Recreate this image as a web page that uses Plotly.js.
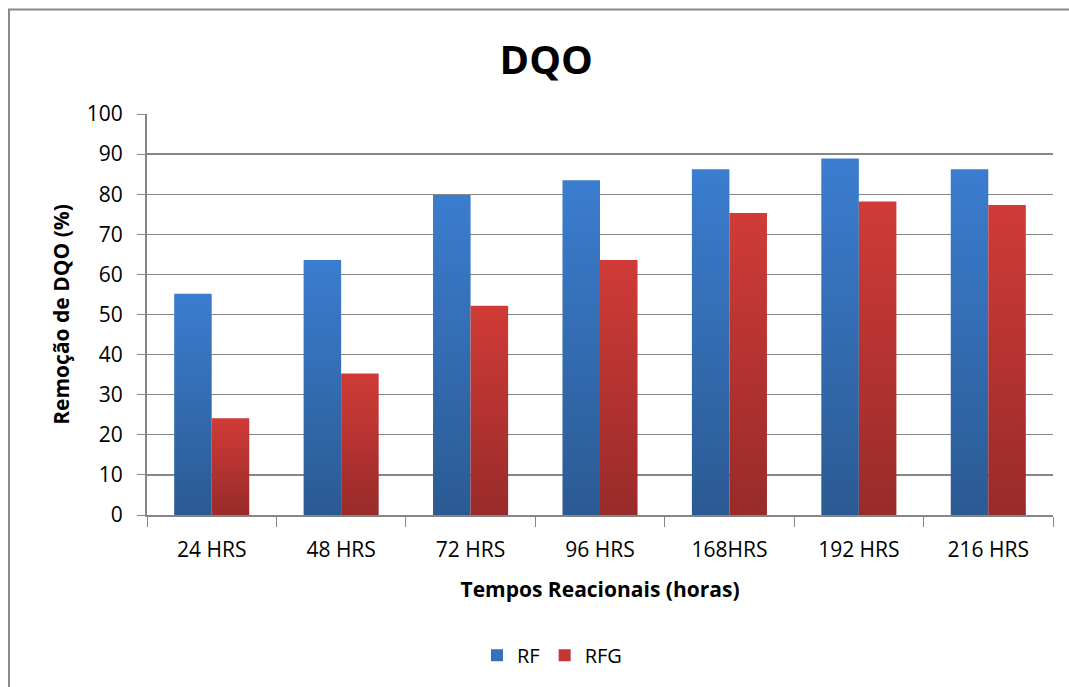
<!DOCTYPE html>
<html>
<head>
<meta charset="utf-8">
<script src="https://cdn.plot.ly/plotly-3.0.1.min.js"></script>
<style>
  html, body { margin: 0; padding: 0; background: #ffffff; }
  #chart { width: 1069px; height: 687px; }
</style>
</head>
<body>
<div id="chart"></div>
<script>
const categories = ['24 HRS', '48 HRS', '72 HRS', '96 HRS', '168HRS', '192 HRS', '216 HRS'];
const rfValues = [55.2, 63.6, 79.8, 83.5, 86.2, 88.9, 86.2];
const rfgValues = [24.1, 35.3, 52.2, 63.6, 75.3, 78.2, 77.3];
const yTicks = [0, 10, 20, 30, 40, 50, 60, 70, 80, 90, 100];

const FONT = 'Open Sans, Lato, DejaVu Sans, sans-serif';
const GRID = '#868686';

const traces = [
  {
    type: 'bar', name: 'RF', x: categories, y: rfValues,
    marker: { color: '#3470bb', line: { width: 0 } },
    hoverinfo: 'x+y+name'
  },
  {
    type: 'bar', name: 'RFG', x: categories, y: rfgValues,
    marker: { color: '#bf3836', line: { width: 0 } },
    hoverinfo: 'x+y+name'
  }
];

const layout = {
  width: 1069, height: 687,
  paper_bgcolor: '#ffffff', plot_bgcolor: '#ffffff',
  margin: { l: 147, r: 16, t: 114, b: 170, pad: 0 },
  font: { family: FONT, color: '#000000' },
  title: {
    text: '<b>DQO</b>',
    font: { family: FONT, size: 40, color: '#000000' },
    x: 0.511, xref: 'container', xanchor: 'center',
    y: 0.913, yref: 'container', yanchor: 'middle'
  },
  barmode: 'group', bargap: 0.42, bargroupgap: 0,
  showlegend: true,
  legend: {
    orientation: 'h', x: 0.447, xanchor: 'center', y: -0.35, yanchor: 'middle',
    font: { family: FONT, size: 20, color: '#000000' },
    itemwidth: 30, tracegroupgap: 0
  },
  xaxis: {
    type: 'category',
    showline: true, linecolor: GRID, linewidth: 2,
    ticks: 'outside', tickson: 'boundaries', ticklen: 10, tickcolor: GRID, tickwidth: 1,
    ticklabelstandoff: 15,
    tickfont: { family: FONT, size: 21, color: '#000000' },
    showgrid: false, zeroline: false,
    title: { text: '<b>Tempos Reacionais (horas)</b>', font: { family: FONT, size: 21, color: '#000000' }, standoff: 20 },
    automargin: false
  },
  yaxis: {
    range: [0, 100], tickvals: yTicks, ticktext: yTicks.map(String),
    showline: true, linecolor: GRID, linewidth: 2,
    ticks: 'outside', ticklen: 8, tickcolor: GRID, tickwidth: 1,
    ticklabelstandoff: 10,
    tickfont: { family: FONT, size: 21, color: '#000000' },
    showgrid: true, gridcolor: GRID, gridwidth: 1.3,
    zeroline: false,
    title: { text: '<b>Remoção de DQO (%)</b>', font: { family: FONT, size: 21, color: '#000000' }, standoff: 11 },
    automargin: false
  },
  shapes: [
    {
      type: 'rect', xref: 'paper', yref: 'paper',
      x0: -0.1523, x1: 1.05, y0: -0.5, y1: 1.2605,
      line: { color: '#8a8a8a', width: 2 }, fillcolor: 'rgba(0,0,0,0)', layer: 'below'
    }
  ]
};

Plotly.newPlot('chart', traces, layout, { staticPlot: true, displayModeBar: false }).then(function (gd) {
  // vertical gradient fill per bar, as in the original spreadsheet chart
  const svg = gd.querySelector('svg.main-svg');
  const NS = 'http://www.w3.org/2000/svg';
  const defs = document.createElementNS(NS, 'defs');
  function grad(id, top, bottom) {
    const g = document.createElementNS(NS, 'linearGradient');
    g.setAttribute('id', id);
    g.setAttribute('x1', '0'); g.setAttribute('y1', '0');
    g.setAttribute('x2', '0'); g.setAttribute('y2', '1');
    [[0, top], [1, bottom]].forEach(function (s) {
      const st = document.createElementNS(NS, 'stop');
      st.setAttribute('offset', s[0]);
      st.setAttribute('stop-color', s[1]);
      g.appendChild(st);
    });
    defs.appendChild(g);
  }
  grad('gradRF', '#3b7dcf', '#2b5a93');
  grad('gradRFG', '#d03b37', '#982b2a');
  svg.insertBefore(defs, svg.firstChild);
  const groups = gd.querySelectorAll('.barlayer .trace');
  const ids = ['gradRF', 'gradRFG'];
  groups.forEach(function (g, i) {
    g.querySelectorAll('.point path').forEach(function (p) {
      p.style.fill = 'url(#' + ids[i] + ')';
    });
  });
});
</script>
</body>
</html>
